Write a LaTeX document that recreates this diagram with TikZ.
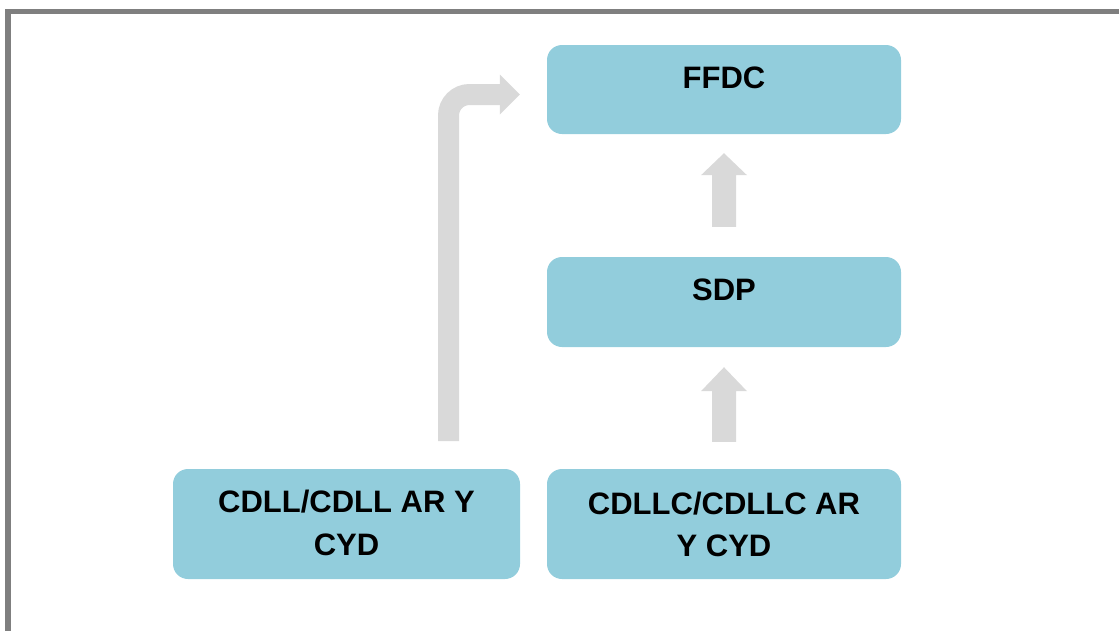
\documentclass[tikz,border=0pt]{standalone}
\usepackage{fontspec}
\setmainfont{Liberation Sans}
\usetikzlibrary{calc}
\definecolor{boxblue}{HTML}{92CDDC}
\definecolor{arrowgray}{HTML}{D9D9D9}
\definecolor{framegray}{HTML}{7F7F7F}
\tikzset{
  boxnode/.style={draw=none, fill=boxblue, rounded corners=15pt, inner sep=0pt},
  lbl/.style={font=\bfseries\fontsize{31}{42.5}\selectfont, align=center, inner sep=0pt, anchor=base},
  arrowbody/.style={fill=arrowgray, draw=none},
  bentshaft/.style={draw=arrowgray, line width=21pt, rounded corners=21pt, line cap=butt}
}
\begin{document}
\begin{tikzpicture}[x=1pt,y=-1pt]
\useasboundingbox (0,0) rectangle (1119,630);
% frame
\draw[framegray, line width=5.5pt, line join=miter] (8,631) -- (8,11.5) -- (1120,11.5);
% boxes
\node[boxnode, minimum width=354pt, minimum height=89pt] (ffdc) at (724,89.5) {};
\node[boxnode, minimum width=354pt, minimum height=90pt] (sdp) at (724,302) {};
\node[boxnode, minimum width=354pt, minimum height=110pt] (cdllc) at (724,524) {};
\node[boxnode, minimum width=347pt, minimum height=110pt] (cdll) at (346.5,524) {};
% labels (base = baseline of last line)
\node[lbl] (tffdc) at ($(ffdc.north)+(0,43.3)$) {FFDC};
\node[lbl] (tsdp) at ($(sdp.north)+(0,44)$) {SDP};
\node[lbl] (tcdllc) at ($(cdllc.north)+(0,88)$) {CDLLC/CDLLC AR\\Y CYD};
\node[lbl] (tcdll) at ($(cdll.north)+(0,86.5)$) {CDLL/CDLL AR Y\\CYD};
% up arrow SDP -> FFDC
\coordinate (a1b) at ($(sdp.north)+(0,-30)$);
\coordinate (a1t) at ($(ffdc.south)+(0,19)$);
\fill[arrowbody] ($(a1b)+(-12,0)$) -- ($(a1t)+(-12,22)$) -- ($(a1t)+(-23,22)$) -- (a1t)
  -- ($(a1t)+(23,22)$) -- ($(a1t)+(12,22)$) -- ($(a1b)+(12,0)$) -- cycle;
% up arrow CDLLC -> SDP
\coordinate (a2b) at ($(cdllc.north)+(0,-27)$);
\coordinate (a2t) at ($(sdp.south)+(0,20)$);
\fill[arrowbody] ($(a2b)+(-12,0)$) -- ($(a2t)+(-12,24)$) -- ($(a2t)+(-23,24)$) -- (a2t)
  -- ($(a2t)+(23,24)$) -- ($(a2t)+(12,24)$) -- ($(a2b)+(12,0)$) -- cycle;
% bent arrow CDLL -> FFDC
\coordinate (b0) at (448.5,441);
\coordinate (b1) at (448.5,94.5);
\coordinate (b2) at ($(ffdc.west |- b1)+(-47,0)$);
\coordinate (btip) at ($(ffdc.west |- b1)+(-27,0)$);
\draw[bentshaft] (b0) -- (b1) -- (b2);
\fill[arrowbody] ($(b2)+(0,-20)$) -- (btip) -- ($(b2)+(0,20)$) -- cycle;
\end{tikzpicture}
\end{document}
